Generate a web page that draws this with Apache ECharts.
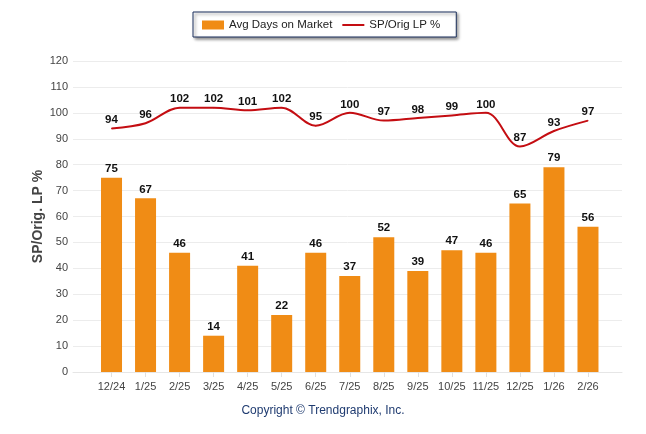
<!DOCTYPE html>
<html><head><meta charset="utf-8">
<script src="https://cdn.jsdelivr.net/npm/echarts@6/dist/echarts.min.js"></script>
<style>html,body{margin:0;padding:0;background:#fff}#c{width:646px;height:434px}</style>
</head><body><div id="c"></div>
<script>
var categories = ['12/24','1/25','2/25','3/25','4/25','5/25','6/25','7/25','8/25','9/25','10/25','11/25','12/25','1/26','2/26'];
var avgDays = [75,67,46,14,41,22,46,37,52,39,47,46,65,79,56];
var spOrig = [94,96,102,102,101,102,95,100,97,98,99,100,87,93,97];
var yTicks = {min:0, max:120, interval:10};

var chart = echarts.init(document.getElementById('c'), null, {renderer:'canvas'});
var font = '"Liberation Sans", Arial, sans-serif';
chart.setOption({
  animation:false,
  title:{text:'Copyright \u00A9 Trendgraphix, Inc.', left:'center', top:400, textStyle:{fontSize:12, fontWeight:'normal', color:'#1f3b70', fontFamily:font}},
  legend:{
    left:193, top:12, orient:'horizontal',
    padding:[7,16,6,9],
    backgroundColor:'#fff', borderColor:'#1b2f5c', borderWidth:1,
    shadowColor:'rgba(0,0,0,0.45)', shadowBlur:3, shadowOffsetX:2, shadowOffsetY:2,
    itemWidth:22, itemHeight:9, itemGap:10,
    textStyle:{fontSize:11.5, color:'#222', fontFamily:font},
    data:[{name:'Avg Days on Market', icon:'rect'},{name:'SP/Orig LP %', icon:'path://M0 0H22V2H0Z'}]
  },
  grid:[
    {left:73, right:24, top:61, bottom:62},
    {left:94.5, right:41, top:61, bottom:62}
  ],
  xAxis:[
    {gridIndex:0, type:'value', min:0, max:1, axisLine:{show:true, lineStyle:{color:'#e6e6e6'}}, axisTick:{show:false}, axisLabel:{show:false}, splitLine:{show:false}},
    {gridIndex:1, type:'category', data:categories, boundaryGap:true,
     axisLine:{show:false}, axisTick:{show:true, alignWithLabel:true, length:5, lineStyle:{color:'#e0e0e0'}},
     axisLabel:{fontSize:11, color:'#444', margin:9, fontFamily:font, interval:0}}
  ],
  yAxis:[
    {gridIndex:0, type:'value', min:yTicks.min, max:yTicks.max, interval:yTicks.interval,
     name:'SP/Orig. LP %', nameLocation:'middle', nameGap:28, nameMoveOverlap:false,
     nameTextStyle:{fontSize:14, fontWeight:'bold', color:'#444', fontFamily:font},
     axisLine:{show:false}, axisTick:{show:false},
     axisLabel:{fontSize:11, color:'#444', margin:5, fontFamily:font},
     splitLine:{lineStyle:{color:'#ececec'}}},
    {gridIndex:1, type:'value', min:yTicks.min, max:yTicks.max, interval:yTicks.interval, show:false, splitLine:{show:false}}
  ],
  series:[
    {name:'Avg Days on Market', type:'bar', xAxisIndex:1, yAxisIndex:1, data:avgDays, barWidth:21,
     itemStyle:{color:'#f08c15'},
     label:{show:true, position:'top', distance:3, fontSize:11.5, fontWeight:'bold', color:'#111', fontFamily:font}},
    {name:'SP/Orig LP %', type:'line', xAxisIndex:1, yAxisIndex:1, data:spOrig, smooth:0.35,
     symbol:'circle', symbolSize:1, showSymbol:true,
     lineStyle:{color:'#c40d12', width:2}, itemStyle:{color:'#c40d12'},
     label:{show:true, position:'top', distance:2, fontSize:11.5, fontWeight:'bold', color:'#111', fontFamily:font}}
  ]
});
</script></body></html>
